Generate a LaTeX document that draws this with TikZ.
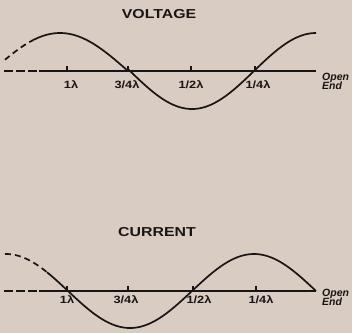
\documentclass[tikz,border=0pt]{standalone}
\usepackage{fontspec}
\setmainfont{Liberation Sans}
\newfontfamily\widesans[FakeStretch=1.22]{Liberation Sans}
\definecolor{paper}{RGB}{216,204,195}
\definecolor{ink}{RGB}{26,21,21}
\tikzset{
  axisline/.style={ink, line width=2.8pt},
  wave/.style={ink, line width=1.7pt},
  dashwave/.style={wave, dash pattern=on 6pt off 4pt},
  title/.style={font=\widesans\fontsize{13}{14}\selectfont\bfseries, text=ink, inner sep=0pt, anchor=base},
  ticklab/.style={font=\widesans\fontsize{10.5}{12}\selectfont\bfseries, text=ink, inner sep=0pt, anchor=base},
  endlab/.style={font=\fontsize{10.5}{10.5}\selectfont\bfseries\itshape, text=ink,
    inner sep=0pt, anchor=base west}
}
\begin{document}
\begin{tikzpicture}[x=1pt, y=-1pt]
  \useasboundingbox (0,0) rectangle (352,333);
  \fill[paper] (0,0) rectangle (352,333);
  % voltage
  \node[title] (vtitle) at (159,18) {VOLTAGE};
  \draw[axisline] (39,71) -- (316,71);
  \draw[axisline, dash pattern=on 9pt off 3pt] (4,71) -- (37,71);
  \draw[wave, domain=128:316, samples=80, smooth] plot (\x, {71-38*cos(1.4516*(316-\x))});
  \draw[wave, domain=33:128, samples=40, smooth] plot (\x, {71-38*sin(90*(128-\x)/68)});
  \draw[dashwave, domain=5:33, samples=20, smooth] plot (\x, {71-38*sin(90*(128-\x)/68)});
  \foreach \xx in {67, 128, 191, 255} {
    \draw[ink, line width=1.2pt] (\xx,71) -- (\xx,66);
  }
  \node[ticklab] (v1) at (71,88) {1λ};
  \node[ticklab] (v2) at (127,88) {3/4λ};
  \node[ticklab] (v3) at (191,88) {1/2λ};
  \node[ticklab] (v4) at (258,88) {1/4λ};
  \node[endlab] (vopen) at (322,80) {Open};
  \node[endlab] (vend) at (322,89.5) {End};
  % current
  \node[title] (ctitle) at (157,236) {CURRENT};
  \draw[axisline] (39,291) -- (316,291);
  \draw[axisline, dash pattern=on 9pt off 3pt] (4,291) -- (37,291);
  \draw[wave, domain=47:316, samples=120, smooth] plot (\x, {291-37*sin(1.4516*(316-\x))});
  \draw[dashwave, domain=5:47, samples=20, smooth] plot (\x, {291-37*sin(1.4516*(316-\x))});
  \foreach \xx in {67, 128, 193, 256} {
    \draw[ink, line width=1.2pt] (\xx,291) -- (\xx,286);
  }
  \node[ticklab] (c1) at (67,303) {1λ};
  \node[ticklab] (c2) at (126,303) {3/4λ};
  \node[ticklab] (c3) at (199,303) {1/2λ};
  \node[ticklab] (c4) at (261,303) {1/4λ};
  \node[endlab] (copen) at (322,296) {Open};
  \node[endlab] (cend) at (322,305.5) {End};
\end{tikzpicture}
\end{document}
